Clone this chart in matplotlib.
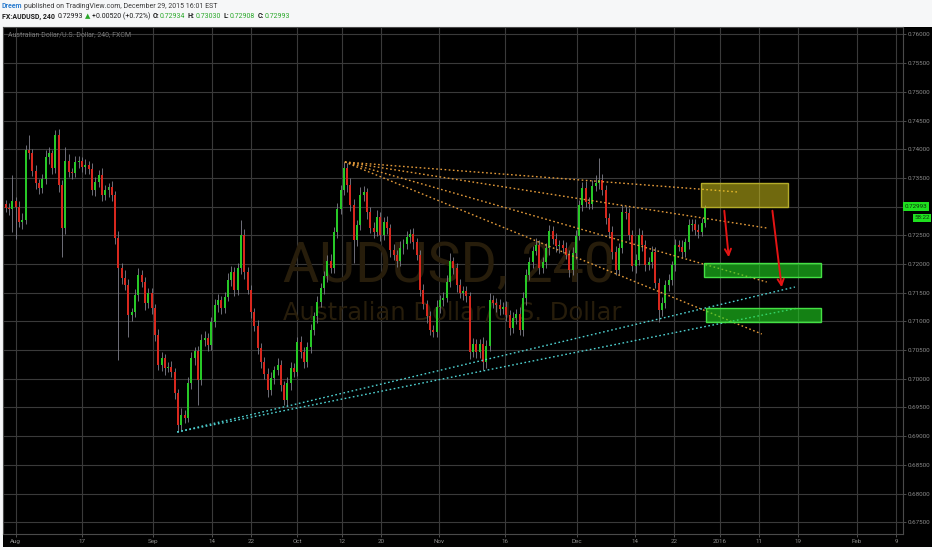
import numpy as np
import matplotlib
matplotlib.use("Agg")
import matplotlib.pyplot as plt
from matplotlib.patches import Rectangle

# ---- data (12h bars, AUDUSD) ----
closes = [0.7298, 0.7296, 0.7310, 0.7299, 0.7273, 0.7277, 0.7399, 0.7393, 0.7362, 0.7341,
          0.7332, 0.7348, 0.7386, 0.7393, 0.7367, 0.7425, 0.7338, 0.7263, 0.7379, 0.7360,
          0.7359, 0.7378, 0.7379, 0.7369, 0.7372, 0.7366, 0.7329, 0.7343, 0.7355, 0.7320,
          0.7329, 0.7334, 0.7320, 0.7245, 0.7193, 0.7176, 0.7163, 0.7111, 0.7116, 0.7146,
          0.7181, 0.7169, 0.7132, 0.7149, 0.7123, 0.7076, 0.7024, 0.7036, 0.7019, 0.7021,
          0.7012, 0.6975, 0.6920, 0.6937, 0.6932, 0.6993, 0.7036, 0.7048, 0.6998, 0.7068,
          0.7071, 0.7059, 0.7099, 0.7129, 0.7137, 0.7123, 0.7143, 0.7172, 0.7186, 0.7155,
          0.7193, 0.7251, 0.7186, 0.7155, 0.7116, 0.7092, 0.7054, 0.7029, 0.7008, 0.6980,
          0.7001, 0.7015, 0.7024, 0.6989, 0.6963, 0.6993, 0.7019, 0.7012, 0.7064, 0.7047,
          0.7029, 0.7055, 0.7085, 0.7109, 0.7134, 0.7158, 0.7179, 0.7205, 0.7193, 0.7256,
          0.7296, 0.7329, 0.7367, 0.7338, 0.7303, 0.7242, 0.7268, 0.7320, 0.7325, 0.7291,
          0.7263, 0.7256, 0.7282, 0.7251, 0.7273, 0.7263, 0.7224, 0.7216, 0.7205, 0.7228,
          0.7235, 0.7247, 0.7252, 0.7238, 0.7216, 0.7155, 0.7130, 0.7109, 0.7085, 0.7082,
          0.7125, 0.7137, 0.7141, 0.7169, 0.7205, 0.7193, 0.7163, 0.7149, 0.7153, 0.7144,
          0.7047, 0.7061, 0.7047, 0.7061, 0.7029, 0.7057, 0.7137, 0.7132, 0.7129, 0.7122,
          0.7125, 0.7111, 0.7088, 0.7106, 0.7113, 0.7085, 0.7141, 0.7181, 0.7203, 0.7223,
          0.7233, 0.7193, 0.7203, 0.7228, 0.7257, 0.7244, 0.7231, 0.7233, 0.7228, 0.7216,
          0.7190, 0.7219, 0.7249, 0.7303, 0.7332, 0.7308, 0.7305, 0.7336, 0.7341, 0.7346,
          0.7329, 0.7280, 0.7256, 0.7221, 0.7190, 0.7228, 0.7291, 0.7289, 0.7251, 0.7197,
          0.7207, 0.7251, 0.7233, 0.7198, 0.7203, 0.7221, 0.7167, 0.7120, 0.7132, 0.7163,
          0.7172, 0.7198, 0.7233, 0.7230, 0.7221, 0.7238, 0.7268, 0.7270, 0.7259, 0.7256,
          0.7271, 0.7299]
first_open = 0.7305
# shadows in pips
wick_up = [6, 8, 45, 7, 10, 12, 9, 26, 8, 10,
           7, 9, 12, 10, 6, 8, 10, 9, 25, 12,
           8, 10, 9, 7, 11, 8, 10, 9, 8, 12,
           9, 7, 10, 8, 12, 9, 14, 10, 8, 11,
           12, 9, 8, 10, 9, 7, 11, 10, 8, 9,
           10, 7, 8, 12, 9, 10, 11, 8, 9, 10,
           12, 8, 9, 10, 11, 7, 9, 12, 10, 8,
           9, 26, 10, 8, 9, 7, 10, 8, 9, 11,
           10, 8, 12, 9, 7, 10, 11, 8, 9, 10,
           8, 9, 10, 7, 11, 9, 8, 10, 12, 9,
           10, 8, 11, 9, 12, 10, 9, 14, 11, 8,
           9, 10, 12, 8, 9, 11, 7, 10, 9, 12,
           8, 10, 9, 11, 8, 9, 10, 7, 9, 8,
           12, 9, 10, 11, 14, 8, 9, 10, 8, 9,
           7, 10, 8, 9, 11, 10, 12, 9, 8, 10,
           9, 11, 8, 10, 9, 12, 10, 11, 9, 8,
           12, 9, 10, 8, 11, 9, 10, 8, 9, 10,
           8, 10, 11, 9, 10, 12, 9, 10, 14, 39,
           10, 9, 8, 11, 10, 9, 12, 10, 8, 9,
           10, 12, 9, 8, 10, 11, 9, 8, 10, 9,
           11, 8, 10, 9, 12, 8, 10, 9, 8, 10,
           9, 4]
wick_dn = [8, 10, 40, 55, 9, 12, 8, 10, 9, 11,
           10, 8, 9, 11, 10, 9, 12, 51, 10, 9,
           11, 8, 10, 9, 12, 10, 9, 11, 8, 10,
           9, 12, 10, 11, 160, 10, 9, 38, 11, 8,
           10, 9, 12, 8, 10, 11, 9, 10, 12, 8,
           9, 11, 13, 10, 9, 8, 10, 12, 44, 9,
           10, 11, 8, 9, 12, 10, 9, 8, 11, 10,
           9, 10, 12, 8, 10, 9, 11, 10, 9, 12,
           8, 10, 9, 11, 9, 10, 12, 9, 8, 10,
           11, 9, 10, 8, 12, 9, 10, 11, 9, 8,
           10, 9, 8, 12, 10, 40, 11, 9, 10, 12,
           9, 10, 8, 11, 9, 10, 12, 9, 10, 8,
           11, 9, 10, 12, 9, 10, 8, 11, 9, 10,
           9, 11, 10, 8, 9, 10, 12, 9, 11, 10,
           12, 9, 10, 11, 14, 10, 9, 8, 12, 10,
           9, 10, 12, 8, 11, 9, 10, 12, 9, 10,
           8, 11, 9, 10, 12, 9, 10, 11, 9, 8,
           12, 9, 10, 8, 11, 9, 10, 9, 8, 10,
           9, 11, 10, 12, 9, 10, 8, 11, 9, 10,
           12, 9, 10, 11, 8, 10, 9, 21, 10, 9,
           10, 9, 11, 8, 10, 9, 12, 10, 9, 11,
           8, 6]

time_ticks = [3.0, 23.0, 44.4, 62.2, 74.0, 87.9, 101.4, 113.2, 130.7, 150.6,
              172.3, 189.8, 201.6, 215.5, 227.2, 239.0, 256.8, 268.6]
time_labels = ["Aug", "17", "Sep", "14", "22", "Oct", "12", "20", "Nov", "16",
               "Dec", "14", "22", "2016", "11", "19", "Feb", "9"]
price_ticks = [0.675, 0.680, 0.685, 0.690, 0.695, 0.700, 0.705, 0.710, 0.715,
               0.720, 0.725, 0.730, 0.735, 0.740, 0.745, 0.750, 0.755, 0.760]

# drawings: fan from the Oct high, support lines from the Sep low
fan_start = (102.3, 0.73777)
fan_ends = [(220.9, 0.73254), (229.6, 0.72627), (229.6, 0.71686), (228.1, 0.70780)]
sup_start = (51.7, 0.69073)
sup_ends = [(238.1, 0.71599), (239.0, 0.71233)]
yellow_box = (209.9, 236.1, 0.72993, 0.73411)
green_boxes = [(210.6, 245.9, 0.71774, 0.72017), (211.2, 245.9, 0.70990, 0.71233)]
arrows = [((216.7, 0.72976), (218.2, 0.72070)), ((231.2, 0.72976), (234.2, 0.71547))]
last_price = 0.72993

W, H = 932, 550
fig = plt.figure(figsize=(W / 100, H / 100), dpi=100, facecolor="#f6f7f8")
fig.patches.append(Rectangle((3 / W, 3 / H), 929 / W, 520 / H, transform=fig.transFigure,
                             facecolor="black", edgecolor="none", zorder=-5))
ax = fig.add_axes([3 / W, 16 / H, 900 / W, 507 / H])
ax.set_facecolor("black")

closes = np.array(closes)
opens = np.concatenate([[first_open], closes[:-1]])
highs = np.maximum(opens, closes) + np.array(wick_up) * 1e-4
lows = np.minimum(opens, closes) - np.array(wick_dn) * 1e-4
bars = np.arange(len(closes))
rising = closes >= opens
ax.vlines(bars, lows, highs, color="#80808c", lw=0.6, zorder=2)
body = np.maximum(np.abs(closes - opens), 0.00006)
ax.bar(bars, body, bottom=np.minimum(opens, closes), width=0.6,
       color=np.where(rising, "#27c827", "#d8281e"), linewidth=0, zorder=3)

# watermark
small = ["Roboto", "DejaVu Sans"]
ax.text(0.311, 0.497, "AUDUSD, 240", transform=ax.transAxes, fontsize=40, family=small,
        color="#271d0b", va="baseline", ha="left", zorder=1)
ax.text(0.311, 0.423, "Australian Dollar/U.S. Dollar", transform=ax.transAxes, fontsize=17.5,
        family="DejaVu Sans", color="#271d0b", va="baseline", ha="left", zorder=1)
ax.text(0.0056, 0.984, "Australian Dollar/U.S. Dollar, 240, FXCM", transform=ax.transAxes,
        fontsize=5.0, family=small, color="#767676", va="center", ha="left", zorder=4)

dots = (0, (1.2, 1.8))
for ex, ey in fan_ends:
    ax.plot([fan_start[0], ex], [fan_start[1], ey], color="#e39a3a", lw=1.0, ls=dots, zorder=5)
for ex, ey in sup_ends:
    ax.plot([sup_start[0], ex], [sup_start[1], ey], color="#4fd2d2", lw=1.0, ls=dots, zorder=5)

x0, x1, y0, y1 = yellow_box
ax.add_patch(Rectangle((x0, y0), x1 - x0, y1 - y0, facecolor="#e0d21c", alpha=0.5,
                       edgecolor="none", zorder=6))
ax.add_patch(Rectangle((x0, y0), x1 - x0, y1 - y0, facecolor="none",
                       edgecolor="#b4ac2a", lw=1.0, zorder=6))
for x0, x1, y0, y1 in green_boxes:
    ax.add_patch(Rectangle((x0, y0), x1 - x0, y1 - y0, facecolor="#22d822", alpha=0.6,
                           edgecolor="none", zorder=6))
    ax.add_patch(Rectangle((x0, y0), x1 - x0, y1 - y0, facecolor="none",
                           edgecolor="#44e044", lw=1.0, zorder=6))
for (ax0, ay0), (ax1, ay1) in arrows:
    ax.annotate("", xy=(ax1, ay1), xytext=(ax0, ay0),
                arrowprops=dict(arrowstyle="->", color="#e41414", lw=1.4, mutation_scale=11),
                zorder=7)

ax.set_xlim(-0.83, 270.7)
ax.set_ylim(0.67296, 0.76129)
ax.set_xticks(time_ticks)
ax.set_xticklabels(time_labels)
ax.set_yticks(price_ticks)
# the 0.73000 label sits under the last-price tag, as on the original
ax.set_yticklabels(["" if abs(p - last_price) < 0.0005 else "%.5f" % p for p in price_ticks])
ax.yaxis.tick_right()
ax.tick_params(axis="both", colors="#5a5a5a", labelcolor="#8c8c8c", labelsize=4.5,
               length=2.5, width=0.6, pad=1.0)
for lab in ax.get_xticklabels() + ax.get_yticklabels():
    lab.set_family(small)
ax.grid(True, color="#3a3a3a", lw=0.8)
ax.set_axisbelow(True)
for s in ax.spines.values():
    s.set_color("#4a4a4a")
    s.set_linewidth(0.8)

ax.annotate("0.72993", xy=(1, last_price), xycoords=("axes fraction", "data"),
            xytext=(1.3, 0.4), textcoords="offset points", fontsize=4.5, family=small,
            color="#0b300b", va="center", ha="left", annotation_clip=False,
            bbox=dict(boxstyle="square,pad=0.25", fc="#1fe01f", ec="none"))
ax.annotate("58:22", xy=(1, last_price), xycoords=("axes fraction", "data"),
            xytext=(8.0, -7.9), textcoords="offset points", fontsize=4.5, family=small,
            color="#0b300b", va="center", ha="left", annotation_clip=False,
            bbox=dict(boxstyle="square,pad=0.25", fc="#1fe01f", ec="none"))

# header lines
rend = fig.canvas.get_renderer()


def runs(x, y, parts, size):
    for s, col, bold, gap in parts:
        t = fig.text(x / W, 1 - y / H, s, color=col, fontsize=size, family=small,
                     fontweight="bold" if bold else "normal", va="center", ha="left")
        x = t.get_window_extent(rend).x1 + gap


runs(2, 6.5, [("Dreem", "#2f7fd0", True, 2.0),
              ("published on TradingView.com, December 29, 2015 16:01 EST", "#3a3a3a", False, 0)], 5.0)
green = "#2aa82a"
dark = "#1c1c1c"
runs(2, 16.5, [("FX:AUDUSD, 240", dark, True, 2.5), ("0.72993", dark, False, 2),
               ("▲", green, False, 1.5), ("+0.00520 (+0.72%)", dark, False, 2.5),
               ("O:", dark, True, 0.5), ("0.72934", green, False, 2.5),
               ("H:", dark, True, 0.5), ("0.73030", green, False, 2.5),
               ("L:", dark, True, 0.5), ("0.72908", green, False, 2.5),
               ("C:", dark, True, 0.5), ("0.72993", green, False, 0)], 5.0)

fig.savefig("out.png", dpi=100, facecolor=fig.get_facecolor())
